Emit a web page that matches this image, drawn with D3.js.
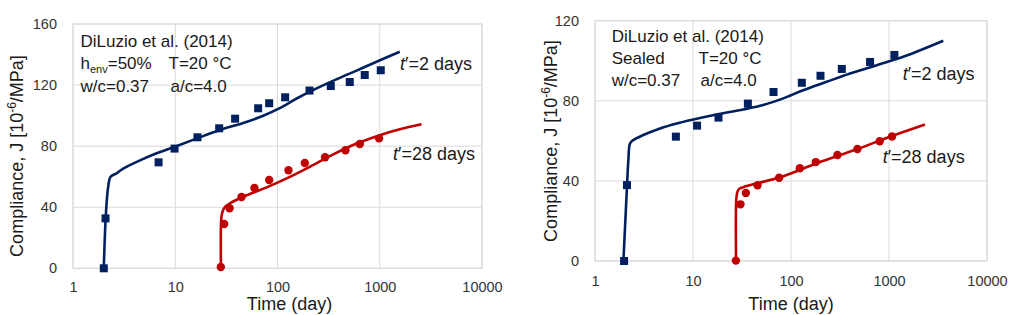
<!DOCTYPE html>
<meta charset="utf-8">
<style>
body { margin: 0; background: #fff; }
svg text { font-family: "Liberation Sans", Arial, sans-serif; fill: #1a1a1a; }
.grid line { stroke: #d9d9d9; stroke-width: 1; }
.frame { fill: none; stroke: #d9d9d9; stroke-width: 1; }
.tick text { font-size: 14.5px; fill: #333; }
</style>
<svg width="1019" height="315"></svg>
<script src="https://d3js.org/d3.v7.min.js"></script>
<script>

var xTicks = [1, 10, 100, 1000, 10000];
var yTicksA = [0, 40, 80, 120, 160];
var yTicksB = [0, 40, 80, 120];

// left panel: h_env = 50%
var a2Time = [2.0, 2.08, 6.87, 9.85, 16.5, 26.9, 38.5, 64.7, 82.9, 118.8, 205.6, 332, 509, 713, 1023];
var a2J    = [0, 32.7, 69.4, 78.4, 85.8, 91.7, 98.0, 104.8, 108.1, 112.0, 116.4, 119.4, 122.0, 126.6, 129.7];
var a28Time = [27.9, 30.1, 34.0, 44.5, 59.5, 82.9, 128, 185, 292, 462, 638, 985];
var a28J    = [0.9, 29.0, 39.3, 46.7, 52.6, 57.8, 64.2, 69.0, 72.7, 77.3, 81.4, 85.1];
var a2FitTime = [2.0, 2.1, 2.21, 2.33, 2.67, 3.1, 4.52, 6.58, 9.93, 16.2, 27.4, 46.2, 72.5, 105, 154, 241, 378, 593, 931, 1571];
var a2FitJ    = [0, 36, 53.5, 60, 62.2, 65.3, 70.7, 75.3, 79.6, 85.0, 90.6, 95.2, 99.9, 104.9, 111.2, 117.8, 123.8, 129.5, 135.3, 141.8];
var a28FitTime = [28, 28.1, 28.8, 30.5, 34.3, 46.2, 78.2, 123, 207, 351, 593, 1002, 1571, 2561];
var a28FitJ    = [0, 31, 36.5, 40, 42.6, 46.9, 53.0, 58.9, 66.5, 74.6, 81.7, 87.2, 91.0, 94.3];

// right panel: sealed
var b2Time = [1.98, 2.12, 6.69, 11.0, 18.2, 36.3, 66.3, 129, 200, 330, 641, 1135];
var b2J    = [0, 37.9, 62.1, 67.6, 71.6, 78.6, 84.4, 89.0, 92.5, 95.9, 99.4, 102.9];
var b28Time = [27.4, 30.5, 34.6, 45.5, 75.7, 123, 179, 298, 476, 804, 1074];
var b28J    = [0.2, 28.3, 34.0, 37.8, 41.6, 46.3, 49.4, 52.9, 55.9, 59.8, 62.2];
var b2FitTime = [1.95, 2.1, 2.19, 2.27, 2.4, 3.11, 4.61, 6.82, 10.07, 17.4, 32.6, 52.1, 83.4, 133, 231, 400, 748, 1400, 3580];
var b2FitJ    = [0, 33, 50.4, 58.5, 60, 62.9, 66.2, 68.7, 70.7, 73.2, 75.7, 77.9, 81.2, 85.3, 89.5, 93.6, 97.8, 102.0, 110.0];
var b28FitTime = [27.5, 27.6, 28.2, 29.5, 35.3, 77.2, 183, 468, 1065, 2330];
var b28FitJ    = [0, 30, 34, 36, 37.4, 41.8, 48.8, 55.8, 62.4, 68.2];

var blue = "#002060", red = "#c00000";
var svg = d3.select("svg");

function zip(t, j) { return t.map(function(d, i) { return [d, j[i]]; }); }

function panel(p) {
  var x = d3.scaleLog().domain([1, 10000]).range([p.x0, p.x1]);
  var y = d3.scaleLinear().domain([0, p.yMax]).range([p.y0, p.y1]);
  var g = svg.append("g");

  g.append("g").attr("class", "grid").selectAll(".gx").data(xTicks).enter()
    .append("line").attr("x1", x).attr("x2", x).attr("y1", p.y0).attr("y2", p.y1);
  g.append("g").attr("class", "grid").selectAll(".gy").data(p.yTicks).enter()
    .append("line").attr("y1", y).attr("y2", y).attr("x1", p.x0).attr("x2", p.x1);
  g.append("rect").attr("class", "frame")
    .attr("x", p.x0).attr("y", p.y1).attr("width", p.x1 - p.x0).attr("height", p.y0 - p.y1);

  var ax = g.append("g").attr("transform", "translate(0," + p.y0 + ")")
    .call(d3.axisBottom(x).tickValues(xTicks).tickFormat(d3.format("d")).tickSize(0).tickPadding(p.xPad));
  ax.select(".domain").remove();
  var ay = g.append("g").attr("transform", "translate(" + p.x0 + ",0)")
    .call(d3.axisLeft(y).tickValues(p.yTicks).tickSize(0).tickPadding(p.yPad));
  ay.select(".domain").remove();
  g.selectAll(".tick text").attr("font-family", null).attr("font-size", null);

  g.append("text").attr("x", p.xTitleX).attr("y", 310).attr("text-anchor", "middle")
    .style("font-size", "18px").text("Time (day)");
  var yt = g.append("text").attr("transform", "translate(" + p.yTitleX + "," + p.yTitleY + ") rotate(-90)")
    .attr("text-anchor", "middle").style("font-size", "18px");
  yt.append("tspan").text("Compliance, J [10");
  yt.append("tspan").attr("dy", -7).style("font-size", "12px").text("-6");
  yt.append("tspan").attr("dy", 7).text("/MPa]");

  var line = d3.line().curve(d3.curveCatmullRom.alpha(0.5))
    .x(function(d) { return x(d[0]); }).y(function(d) { return y(d[1]); });
  g.append("path").datum(zip(p.fit2T, p.fit2J)).attr("d", line)
    .attr("fill", "none").attr("stroke", blue).attr("stroke-width", 2.6);
  g.append("path").datum(zip(p.fit28T, p.fit28J)).attr("d", line)
    .attr("fill", "none").attr("stroke", red).attr("stroke-width", 2.6);

  g.selectAll(".sq").data(zip(p.d2T, p.d2J)).enter().append("rect")
    .attr("x", function(d) { return x(d[0]) - 4; }).attr("y", function(d) { return y(d[1]) - 4; })
    .attr("width", 8).attr("height", 8).attr("fill", blue);
  g.selectAll(".ci").data(zip(p.d28T, p.d28J)).enter().append("circle")
    .attr("cx", function(d) { return x(d[0]); }).attr("cy", function(d) { return y(d[1]); })
    .attr("r", 4.2).attr("fill", red);

  // info box
  var info = g.append("g").style("font-size", "17px");
  info.append("text").attr("x", p.infoX).attr("y", p.infoY[0]).text("DiLuzio et al. (2014)");
  var l2 = info.append("text").attr("x", p.infoX).attr("y", p.infoY[1]);
  if (p.sealed) {
    l2.text("Sealed");
  } else {
    l2.append("tspan").text("h");
    l2.append("tspan").attr("dy", 4).style("font-size", "11px").text("env");
    l2.append("tspan").attr("dy", -4).text("=50%");
  }
  info.append("text").attr("x", p.col2X).attr("y", p.infoY[1]).text("T=20 °C");
  info.append("text").attr("x", p.infoX).attr("y", p.infoY[2]).text("w/c=0.37");
  info.append("text").attr("x", p.col2X + 2).attr("y", p.infoY[2]).text("a/c=4.0");

  [[p.lab2, "2"], [p.lab28, "28"]].forEach(function(l) {
    var t = g.append("text").attr("x", l[0][0]).attr("y", l[0][1]).style("font-size", "18px");
    t.append("tspan").style("font-style", "italic").text("t");
    t.append("tspan").text("′=" + l[1] + " days");
  });
}

panel({
  x0: 73, x1: 482, y0: 268.3, y1: 24, yMax: 160, yTicks: yTicksA,
  xPad: 13, yPad: 16, xTitleX: 289.5, yTitleX: 23, yTitleY: 156,
  d2T: a2Time, d2J: a2J, d28T: a28Time, d28J: a28J,
  fit2T: a2FitTime, fit2J: a2FitJ, fit28T: a28FitTime, fit28J: a28FitJ,
  infoX: 80.5, col2X: 168.5, infoY: [46.5, 69, 91.7], sealed: false,
  lab2: [400, 70], lab28: [393, 160.3]
});

panel({
  x0: 595, x1: 987, y0: 261, y1: 20.7, yMax: 120, yTicks: yTicksB,
  xPad: 15, yPad: 16, xTitleX: 791, yTitleX: 557, yTitleY: 141,
  d2T: b2Time, d2J: b2J, d28T: b28Time, d28J: b28J,
  fit2T: b2FitTime, fit2J: b2FitJ, fit28T: b28FitTime, fit28J: b28FitJ,
  infoX: 611.7, col2X: 698.5, infoY: [42, 64, 86], sealed: true,
  lab2: [902.7, 80], lab28: [882.7, 163.3]
});

</script>
